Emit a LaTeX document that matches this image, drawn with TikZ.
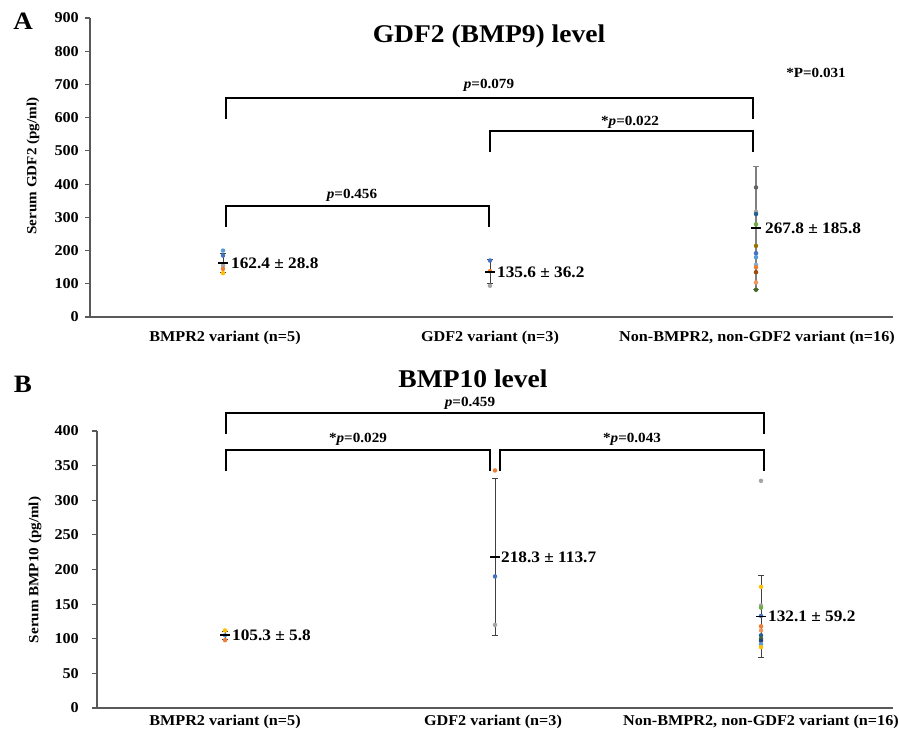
\documentclass[tikz,border=0pt]{standalone}
\usepackage{fontspec}
\setmainfont{Liberation Serif}
\usepackage{graphicx}
\definecolor{cLB}{HTML}{5B9BD5}
\definecolor{cOR}{HTML}{ED7D31}
\definecolor{cGR}{HTML}{A5A5A5}
\definecolor{cGO}{HTML}{FFC000}
\definecolor{cBL}{HTML}{4472C4}
\definecolor{cGN}{HTML}{70AD47}
\definecolor{cDB}{HTML}{255E91}
\definecolor{cDO}{HTML}{9E480E}
\definecolor{cDG}{HTML}{636363}
\definecolor{cDY}{HTML}{997300}
\definecolor{cDB2}{HTML}{264478}
\definecolor{cDN}{HTML}{43682B}
\definecolor{cLB2}{HTML}{7CAFDD}
\definecolor{cLO}{HTML}{F1975A}
\definecolor{axiscol}{HTML}{595959}
\newcommand{\sx}[1]{\scalebox{1.08}[1]{#1}}
\newcommand{\ya}[1]{317-0.33222*(#1)}
\newcommand{\yb}[1]{708-0.6925*(#1)}
\begin{document}
\begin{tikzpicture}[x=1pt,y=-1pt,
  axisline/.style={draw=axiscol,line width=1.1pt},
  ticklbl/.style={font=\fontsize{15}{17}\selectfont\bfseries,anchor=east,inner sep=0pt},
  catlbl/.style={font=\fontsize{15}{17}\selectfont\bfseries,inner sep=0pt},
  ylbl/.style={font=\fontsize{14}{16}\selectfont\bfseries,rotate=90,inner sep=0pt},
  datalbl/.style={font=\fontsize{16}{18}\selectfont\bfseries,anchor=west,inner sep=0pt},
  plbl/.style={font=\fontsize{14}{16}\selectfont\bfseries,inner sep=0pt},
  titlelbl/.style={font=\fontsize{25.5}{29}\selectfont\bfseries,anchor=base,inner sep=0pt},
  panellbl/.style={font=\fontsize{25}{28}\selectfont\bfseries,inner sep=0pt},
  brk/.style={draw=black,line width=2pt},
  ebar/.style={draw=black!75,line width=1pt},
  meanbar/.style={draw=black,line width=1.4pt},
  dot/.style={circle,fill=#1,inner sep=0pt,minimum size=4.5pt}
]
\useasboundingbox (0,0) rectangle (899,738);
\fill[white] (0,0) rectangle (899,738);

% ================= Panel A =================
\node[panellbl] (pA) at (23,21) {\sx{A}};
\node[titlelbl] (tA) at (489,43) {\sx{GDF2 (BMP9) level}};
\draw[axisline] (90,18) -- (90,317) -- (893,317);
\foreach \v [count=\i] in {0,100,...,900} {
  \draw[axisline] (85,{\ya{\v}}) -- (90,{\ya{\v}});
  \node[ticklbl] (ta\i) at (79,{\ya{\v}}) {\sx{\v}};
}
\node[ylbl] (yA) at (33,166) {\sx{Serum GDF2 (pg/ml)}};
\node[catlbl] (cA1) at (225,338) {\sx{BMPR2 variant (n=5)}};
\node[catlbl] (cA2) at (490,338) {\sx{GDF2 variant (n=3)}};
\node[catlbl] (cA3) at (757,338) {\sx{Non-BMPR2, non-GDF2 variant (n=16)}};

% brackets A
\draw[brk] (226,119) -- (226,98) -- (753,98) -- (753,119);
\node[plbl] (pa1) at (489,85) {\sx{\textit{p}=0.079}};
\draw[brk] (490,152) -- (490,131) -- (753,131) -- (753,152);
\node[plbl] (pa2) at (630,122) {\sx{*\textit{p}=0.022}};
\draw[brk] (226,227) -- (226,206) -- (489,206) -- (489,227);
\node[plbl] (pa3) at (352,195) {\sx{\textit{p}=0.456}};
\node[plbl] (pa4) at (816,73) {\sx{*P=0.031}};

% group A1
\draw[ebar] (223,{\ya{191.2}}) -- (223,{\ya{133.6}});
\draw[ebar] (220,{\ya{191.2}}) -- (226,{\ya{191.2}});
\draw[ebar] (220,{\ya{133.6}}) -- (226,{\ya{133.6}});
\foreach \v/\c in {200/cLB,185/cBL,155/cGR,145/cOR,132/cGO}
  \node[dot=\c] at (223,{\ya{\v}}) {};
\draw[meanbar] (218,{\ya{162.4}}) -- (228,{\ya{162.4}});
\node[datalbl] (dA1) at (231,{\ya{162.4}}) {\sx{162.4 ± 28.8}};

% group A2
\draw[ebar] (490,{\ya{171.8}}) -- (490,{\ya{99.4}});
\draw[ebar] (487,{\ya{171.8}}) -- (493,{\ya{171.8}});
\draw[ebar] (487,{\ya{99.4}}) -- (493,{\ya{99.4}});
\foreach \v/\c in {170/cBL,138/cOR,94/cGR}
  \node[dot=\c] at (490,{\ya{\v}}) {};
\draw[meanbar] (485,{\ya{135.6}}) -- (495,{\ya{135.6}});
\node[datalbl] (dA2) at (497,{\ya{135.6}}) {\sx{135.6 ± 36.2}};

% group A3
\draw[draw=gray,line width=1.6pt] (756,{\ya{453.6}}) -- (756,{\ya{82}});
\draw[draw=gray,line width=1pt] (753,{\ya{453.6}}) -- (759,{\ya{453.6}});
\draw[draw=gray,line width=1pt] (753,{\ya{82}}) -- (759,{\ya{82}});
\foreach \v/\c in {390/cDG,317/cGR,310/cDB,279/cGN,214/cDY,192/cBL,180/cLB,157/cLB2,150/cOR,135/cDO,104/cLO,82/cDN}
  \node[dot=\c] at (756,{\ya{\v}}) {};
\draw[meanbar] (751,{\ya{267.8}}) -- (761,{\ya{267.8}});
\node[datalbl] (dA3) at (765,{\ya{267.8}}) {\sx{267.8 ± 185.8}};

% ================= Panel B =================
\node[panellbl] (pB) at (23,384) {\sx{B}};
\node[titlelbl] (tB) at (473,387) {\sx{BMP10 level}};
\draw[axisline] (97,431) -- (97,708) -- (893,708);
\foreach \v [count=\i] in {0,50,...,400} {
  \draw[axisline] (92,{\yb{\v}}) -- (97,{\yb{\v}});
  \node[ticklbl] (tb\i) at (79,{\yb{\v}}) {\sx{\v}};
}
\node[ylbl] (yB) at (35,570) {\sx{Serum BMP10 (pg/ml)}};
\node[catlbl] (cB1) at (225,722) {\sx{BMPR2 variant (n=5)}};
\node[catlbl] (cB2) at (493,722) {\sx{GDF2 variant (n=3)}};
\node[catlbl] (cB3) at (761,722) {\sx{Non-BMPR2, non-GDF2 variant (n=16)}};

% brackets B
\draw[brk] (226,434) -- (226,413) -- (764,413) -- (764,434);
\node[plbl] (pb1) at (470,403) {\sx{\textit{p}=0.459}};
\draw[brk] (226,471) -- (226,450) -- (490,450) -- (490,471);
\node[plbl] (pb2) at (358,439) {\sx{*\textit{p}=0.029}};
\draw[brk] (500,471) -- (500,450) -- (764,450) -- (764,471);
\node[plbl] (pb3) at (632,439) {\sx{*\textit{p}=0.043}};

% group B1
\draw[ebar] (225,{\yb{111.1}}) -- (225,{\yb{99.5}});
\draw[ebar] (222,{\yb{111.1}}) -- (228,{\yb{111.1}});
\draw[ebar] (222,{\yb{99.5}}) -- (228,{\yb{99.5}});
\foreach \v/\c in {112/cGO,105/cLB,98/cOR}
  \node[dot=\c] at (225,{\yb{\v}}) {};
\draw[meanbar] (220,{\yb{105.3}}) -- (230,{\yb{105.3}});
\node[datalbl] (dB1) at (232,{\yb{105.3}}) {\sx{105.3 ± 5.8}};

% group B2
\draw[ebar] (495,{\yb{332}}) -- (495,{\yb{104.6}});
\draw[ebar] (492,{\yb{332}}) -- (498,{\yb{332}});
\draw[ebar] (492,{\yb{104.6}}) -- (498,{\yb{104.6}});
\foreach \v/\c in {343/cOR,190/cBL,120/cGR}
  \node[dot=\c] at (495,{\yb{\v}}) {};
\draw[meanbar] (490,{\yb{218.3}}) -- (500,{\yb{218.3}});
\node[datalbl] (dB2) at (501,{\yb{218.3}}) {\sx{218.3 ± 113.7}};

% group B3
\draw[ebar] (761,{\yb{191.3}}) -- (761,{\yb{72.9}});
\draw[ebar] (758,{\yb{191.3}}) -- (764,{\yb{191.3}});
\draw[ebar] (758,{\yb{72.9}}) -- (764,{\yb{72.9}});
\foreach \v/\c in {328/cGR,175/cGO,148/cGR,145/cGN,133/cBL,118/cOR,112/cLO,105/cDB,100/cDN,97/cDB2,92/cLB,88/cGO}
  \node[dot=\c] at (761,{\yb{\v}}) {};
\draw[meanbar] (756,{\yb{132.1}}) -- (766,{\yb{132.1}});
\node[datalbl] (dB3) at (768,{\yb{132.1}}) {\sx{132.1 ± 59.2}};
\end{tikzpicture}
\end{document}
